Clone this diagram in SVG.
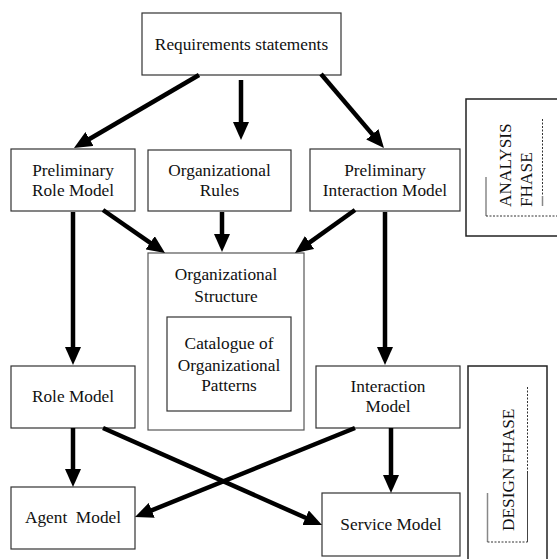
<svg xmlns="http://www.w3.org/2000/svg" width="557" height="559" viewBox="0 0 557 559">
<style>
.box{fill:#fff;stroke:#333;stroke-width:1.2}
.t{font-family:"Liberation Serif","Times New Roman",serif;font-size:17.3px;fill:#111;text-anchor:middle}
.r{font-family:"Liberation Serif","Times New Roman",serif;font-size:17.3px;fill:#111}
.c{fill:none;stroke:#000;stroke-width:4.5}
.frame{fill:none;stroke:#222;stroke-width:1.5}
.g{stroke:#888;stroke-width:1.5;fill:none}
.d{stroke:#333;stroke-width:1;stroke-dasharray:2 1.5;fill:none}
</style>
<defs>
<marker id="ah" markerUnits="userSpaceOnUse" markerWidth="18" markerHeight="16" refX="8" refY="8" orient="auto">
<path d="M0,0 L18,8 L0,16 z" fill="#000"/>
</marker>
</defs>
<rect width="557" height="559" fill="#fff"/>
<g id="req"><rect class="box" x="142" y="13" width="199" height="62"/><text class="t" x="241.5" y="50">Requirements statements</text></g>
<g id="prelimRole"><rect class="box" x="11" y="149" width="124" height="62"/><text class="t" x="73" y="176">Preliminary</text><text class="t" x="73" y="196">Role Model</text></g>
<g id="orgRules"><rect class="box" x="148" y="150" width="143" height="61"/><text class="t" x="219.5" y="176">Organizational</text><text class="t" x="219.5" y="196">Rules</text></g>
<g id="prelimInter"><rect class="box" x="310" y="149" width="150" height="62"/><text class="t" x="385" y="176">Preliminary</text><text class="t" x="385" y="196">Interaction Model</text></g>
<g id="orgStruct"><rect class="box" x="148" y="253" width="156" height="177" style="stroke:#555"/><text class="t" x="226" y="280">Organizational</text><text class="t" x="226" y="301.5">Structure</text>
<g id="catalogue"><rect class="box" x="167" y="317" width="124" height="94"/><text class="t" x="229" y="349">Catalogue of</text><text class="t" x="229" y="370.5">Organizational</text><text class="t" x="229" y="391">Patterns</text></g></g>
<g id="roleModel"><rect class="box" x="11" y="366" width="124" height="62"/><text class="t" x="73" y="401.5">Role Model</text></g>
<g id="interModel"><rect class="box" x="316" y="366" width="144" height="62"/><text class="t" x="388" y="391.5">Interaction</text><text class="t" x="388" y="412">Model</text></g>
<g id="agentModel"><rect class="box" x="11" y="487" width="124" height="62"/><text class="t" x="73" y="523" xml:space="preserve" style="white-space:pre">Agent  Model</text></g>
<g id="serviceModel"><rect class="box" x="322" y="493" width="138" height="63"/><text class="t" x="391" y="530">Service Model</text></g>
<g id="analysis"><rect class="frame" x="466" y="99" width="110" height="137"/>
<line class="g" x1="486" y1="177" x2="486" y2="216"/><line class="d" x1="486" y1="216" x2="557" y2="216"/>
<line class="d" x1="542.5" y1="119" x2="542.5" y2="196"/><line class="g" x1="542.5" y1="196" x2="542.5" y2="206"/>
<text class="r" transform="translate(510.5,207) rotate(-90)">ANALYSIS</text>
<text class="r" transform="translate(532,207) rotate(-90)">FHASE</text></g>
<g id="design"><rect class="frame" x="468" y="366" width="79" height="210"/>
<line class="g" x1="487.5" y1="493" x2="487.5" y2="542"/><line class="d" x1="487.5" y1="542" x2="527.5" y2="542"/>
<line class="d" x1="527.5" y1="387" x2="527.5" y2="473"/><line class="g" x1="527.5" y1="473" x2="527.5" y2="542" style="stroke:#444;stroke-width:1"/>
<text class="r" transform="translate(514,531) rotate(-90)">DESIGN FHASE</text></g>
<g id="connectors">
<line class="c" marker-end="url(#ah)" x1="199" y1="75" x2="82.6" y2="143"/>
<line class="c" marker-end="url(#ah)" x1="241" y1="80" x2="241" y2="130"/>
<line class="c" marker-end="url(#ah)" x1="321" y1="74" x2="377.5" y2="140.4"/>
<line class="c" marker-end="url(#ah)" x1="73" y1="212" x2="73" y2="355"/>
<line class="c" marker-end="url(#ah)" x1="103" y1="210" x2="156.8" y2="247.3"/>
<line class="c" marker-end="url(#ah)" x1="222" y1="212" x2="222" y2="242"/>
<line class="c" marker-end="url(#ah)" x1="355" y1="210" x2="303.1" y2="247.2"/>
<line class="c" marker-end="url(#ah)" x1="385" y1="212" x2="385" y2="355"/>
<line class="c" marker-end="url(#ah)" x1="73" y1="428" x2="73" y2="477"/>
<line class="c" marker-end="url(#ah)" x1="103" y1="428" x2="312.9" y2="521"/>
<line class="c" marker-end="url(#ah)" x1="355" y1="428" x2="144.3" y2="513.3"/>
<line class="c" marker-end="url(#ah)" x1="391" y1="428" x2="391" y2="483"/>
</g>
</svg>
